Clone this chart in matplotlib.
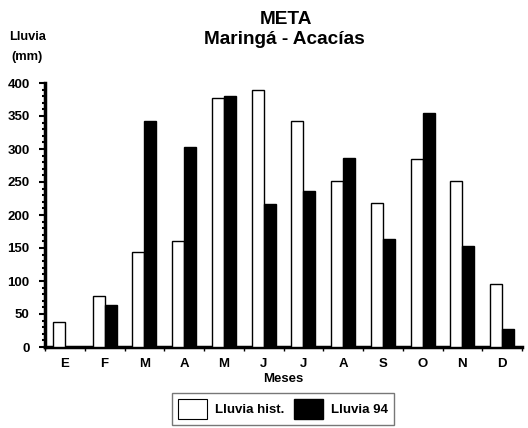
import matplotlib
matplotlib.use("Agg")
import matplotlib.pyplot as plt
import numpy as np
from matplotlib.patches import Patch

months = ["E", "F", "M", "A", "M", "J", "J", "A", "S", "O", "N", "D"]
lluvia_hist = [38, 78, 144, 160, 377, 390, 343, 252, 218, 285, 251, 95]
lluvia_94 = [0, 64, 343, 303, 381, 216, 237, 287, 164, 355, 153, 28]
yticks = [0, 50, 100, 150, 200, 250, 300, 350, 400]

plt.rcParams['font.family'] = ['Liberation Sans', 'DejaVu Sans']
plt.rcParams['font.weight'] = 'bold'

fig = plt.figure(figsize=(5.28, 4.28), dpi=100)
W, H = 528, 428
ax = fig.add_axes([45 / W, 1 - 347 / H, 477 / W, 264 / H])

x = np.arange(len(months))
bw = 0.3
ax.bar(x - bw / 2, lluvia_hist, width=bw, color="white", edgecolor="black", linewidth=1.0, zorder=3)
ax.bar(x + bw / 2, lluvia_94, width=bw, color="black", edgecolor="black", linewidth=1.0, zorder=3)

ax.set_xlim(-0.5, 11.5)
ax.set_ylim(0, 400)
ax.set_yticks(yticks)
ax.set_yticklabels([str(v) for v in yticks], fontsize=9.5, fontweight='bold')
ax.set_yticks(np.arange(0, 401, 10), minor=True)
ax.tick_params(axis='y', which='major', length=4, width=1.5, pad=7)
ax.tick_params(axis='y', which='minor', length=2.5, width=1.5)
ax.set_xticks(x)
ax.set_xticklabels(months, fontsize=9.5, fontweight='bold')
ax.set_xticks(np.arange(-0.5, 12, 1), minor=True)
ax.tick_params(axis='x', which='major', length=0, pad=8)
ax.tick_params(axis='x', which='minor', length=3, width=1)

for s in ['top', 'right']:
    ax.spines[s].set_visible(False)
ax.spines['left'].set_linewidth(2.5)
ax.spines['bottom'].set_linewidth(2.5)
ax.spines['left'].set_bounds(0, 400)

ax.set_xlabel("Meses", fontsize=9.5, fontweight='bold', labelpad=2)

fig.text(286 / W, 1 - 19 / H, "META", ha='center', va='center', fontsize=13.7, fontweight='bold')
fig.text(284 / W, 1 - 40 / H, "Maringá - Acacías", ha='center', va='center', fontsize=13.7, fontweight='bold')
fig.text(28 / W, 1 - 37 / H, "Lluvia", ha='center', va='center', fontsize=9.3, fontweight='bold')
fig.text(27 / W, 1 - 57 / H, "(mm)", ha='center', va='center', fontsize=9.3, fontweight='bold')

handles = [Patch(facecolor='white', edgecolor='black', linewidth=0.8, label='Lluvia hist.'),
           Patch(facecolor='black', edgecolor='black', label='Lluvia 94')]
leg = fig.legend(handles=handles, loc='center', bbox_to_anchor=(283 / W, 1 - 409 / H), ncol=2,
                 fontsize=9.5, frameon=True, fancybox=False, edgecolor='#555555',
                 handlelength=2.2, handleheight=1.9, handletextpad=0.6, columnspacing=0.8,
                 borderpad=0.45, borderaxespad=0)
leg.get_frame().set_linewidth(1.0)

fig.savefig("out.png", dpi=100, facecolor='white')
